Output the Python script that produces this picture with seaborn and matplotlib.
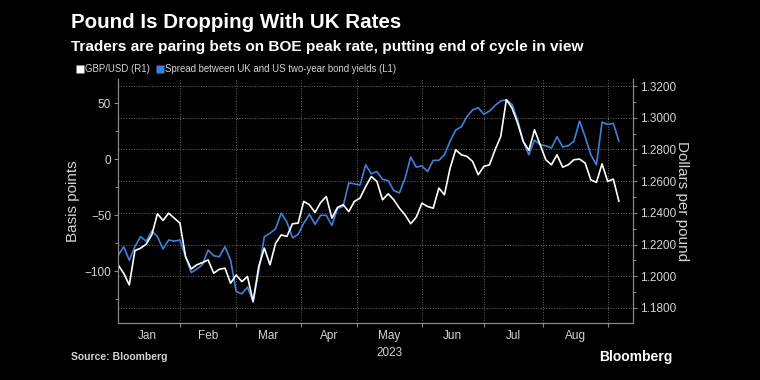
import numpy as np
import pandas as pd
import matplotlib
matplotlib.use("Agg")
import matplotlib.pyplot as plt
import seaborn as sns
from matplotlib.lines import Line2D
from matplotlib.ticker import MultipleLocator, FormatStrFormatter, FixedLocator, NullFormatter

# every other business day from 2 Jan 2023
spread_bp = [-86, -78, -90, -78, -69, -73, -64, -69, -80, -72,
             -73, -72, -87, -101, -98, -94, -81, -86, -87, -78,
             -90, -118, -120, -114, -127, -100, -69, -66, -62, -48,
             -56, -70, -67, -57, -49, -58, -50, -50, -59, -44,
             -42, -21, -22, -23, -5, -13, -11, -18, -19, -28,
             -30, -17, 2, -7, -6, -11, -1, -1, 4, 16,
             26, 29, 38, 44, 46, 40, 43, 48, 52, 53,
             49, 35, 16, 4, 17, 13, 12, 10, 20, 11,
             12, 16, 34, 20, 4, -5, 33, 31, 32, 16]
gbp_usd = [1.2072, 1.2019, 1.1945, 1.2162, 1.2177, 1.2202, 1.2261, 1.2394, 1.2352, 1.2398,
           1.2366, 1.2335, 1.2124, 1.2046, 1.2072, 1.2086, 1.2103, 1.2019, 1.2044, 1.2051,
           1.1956, 1.2008, 1.1966, 1.1998, 1.1840, 1.2061, 1.2177, 1.2072, 1.2208, 1.2261,
           1.2251, 1.2331, 1.2335, 1.2472, 1.2451, 1.2402, 1.2465, 1.2503, 1.2366, 1.2434,
           1.2451, 1.2408, 1.2472, 1.2493, 1.2566, 1.2629, 1.2598, 1.2482, 1.2520, 1.2482,
           1.2429, 1.2387, 1.2331, 1.2373, 1.2461, 1.2440, 1.2429, 1.2556, 1.2514, 1.2682,
           1.2798, 1.2766, 1.2756, 1.2724, 1.2640, 1.2693, 1.2703, 1.2798, 1.2882, 1.3114,
           1.3061, 1.2966, 1.2850, 1.2794, 1.2924, 1.2830, 1.2735, 1.2703, 1.2766, 1.2688,
           1.2703, 1.2735, 1.2739, 1.2714, 1.2608, 1.2592, 1.2709, 1.2598, 1.2613, 1.2472]
months = ["Jan", "Feb", "Mar", "Apr", "May", "Jun", "Jul", "Aug"]

start = "2023-01-02"
df = pd.DataFrame({"day": np.arange(len(gbp_usd)) * 2, "spread": spread_bp, "gbp": gbp_usd})

# month boundaries on a business-day axis
month_starts = pd.date_range("2023-01-01", "2023-09-01", freq="MS")
bounds = np.busday_count(start, month_starts.values.astype("datetime64[D]"))
mids = (bounds[:-1] + bounds[1:]) / 2

sns.set_style("ticks")
plt.rcParams["font.family"] = ["Liberation Sans", "DejaVu Sans"]

BLUE = "#3d82dc"
TXT = "#d4d4d4"
GRID = "#6a6a6a"
SPINE = "#8a8a8a"

fig = plt.figure(figsize=(7.6, 3.8), dpi=100, facecolor="black")
ax = fig.add_axes([0.1553, 0.15, 0.6776, 0.642])
ax.set_facecolor("black")
ax2 = ax.twinx()

sns.lineplot(data=df, x="day", y="spread", ax=ax, color=BLUE, linewidth=1.2)
sns.lineplot(data=df, x="day", y="gbp", ax=ax2, color="white", linewidth=1.2)

ax.set_xlim(0, 183)
ax.set_ylim(-146, 71.5)
ax2.set_ylim(1.1705, 1.3244)

ax.xaxis.set_major_locator(FixedLocator(bounds))
ax.xaxis.set_major_formatter(NullFormatter())
ax.set_xticks(mids, months, minor=True)

ax.yaxis.set_major_locator(MultipleLocator(50))
ax.yaxis.set_minor_locator(MultipleLocator(25))
ax2.yaxis.set_major_locator(MultipleLocator(0.02))
ax2.yaxis.set_minor_locator(MultipleLocator(0.01))
ax2.yaxis.set_major_formatter(FormatStrFormatter("%.4f"))

for a in (ax, ax2):
    a.tick_params(colors=TXT, labelsize=8.5, which="both")
    a.tick_params(which="major", length=3, width=0.8, color=SPINE, pad=2)
    a.tick_params(which="minor", length=2, width=0.8, color=SPINE)
    for s in a.spines.values():
        s.set_color(SPINE)
        s.set_linewidth(0.8)
    a.spines["top"].set_visible(False)
ax.tick_params(axis="x", which="minor", length=0, pad=5)

ax2.set_zorder(ax.get_zorder() + 1)
ax2.patch.set_visible(False)
ax.grid(True, axis="x", which="major", color=GRID, linestyle=":", linewidth=0.7)
ax.grid(False, axis="y")
ax2.grid(True, axis="y", which="major", color=GRID, linestyle=":", linewidth=0.7)
ax2.grid(False, axis="x")

ax.set_xlabel("")
ax.set_ylabel("Basis points", color=TXT, fontsize=11)
ax.yaxis.set_label_coords(-0.073, 0.5)
ax2.set_ylabel("Dollars per pound", color=TXT, fontsize=11, rotation=270, va="center")
ax2.yaxis.set_label_coords(1.095, 0.5)
ax.text(mids[4], -0.1, "2023", transform=ax.get_xaxis_transform(), ha="center", va="top",
        color=TXT, fontsize=8.5)

fig.text(0.094, 0.94, "Pound Is Dropping With UK Rates", color="white", fontsize=14.8,
         fontweight="bold", va="center")
fig.text(0.094, 0.877, "Traders are paring bets on BOE peak rate, putting end of cycle in view",
         color="white", fontsize=11.1, fontweight="bold", va="center")

handles = [Line2D([], [], marker="s", color="none", markerfacecolor="white", markeredgecolor="none", markersize=6),
           Line2D([], [], marker="s", color="none", markerfacecolor=BLUE, markeredgecolor="none", markersize=6)]
fig.legend(handles, ["GBP/USD (R1)", "Spread between UK and US two-year bond yields (L1)"],
           loc="center left", bbox_to_anchor=(0.09, 0.818), ncol=2, frameon=False,
           handlelength=0.55, handletextpad=0.25, columnspacing=0.8, fontsize=6.9, labelcolor=TXT)

fig.text(0.094, 0.06, "Source: Bloomberg", color=TXT, fontsize=7.5, fontweight="bold", va="center")
fig.text(0.885, 0.06, "Bloomberg", color="white", fontsize=10, fontweight="bold", va="center", ha="right")

fig.savefig("out.png", dpi=100, facecolor="black")
